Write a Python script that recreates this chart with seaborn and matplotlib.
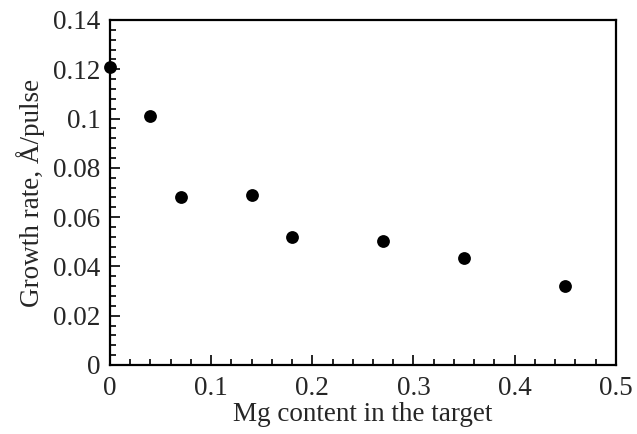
import matplotlib
matplotlib.use("Agg")
import matplotlib.pyplot as plt
import seaborn as sns
import pandas as pd
from matplotlib.ticker import MultipleLocator, FuncFormatter

mg_content = [0.0, 0.04, 0.07, 0.14, 0.18, 0.27, 0.35, 0.45]
growth_rate = [0.121, 0.101, 0.068, 0.069, 0.052, 0.0505, 0.0435, 0.0322]

df = pd.DataFrame({"mg": mg_content, "rate": growth_rate})

sns.set_style("white")
plt.rcParams["font.family"] = ["Liberation Serif", "DejaVu Serif"]

fig = plt.figure(figsize=(6.37, 4.34), dpi=100)
ax = fig.add_axes([0.1727, 0.159, 0.794, 0.795])

sns.scatterplot(data=df, x="mg", y="rate", ax=ax, color="black", s=85,
                edgecolor="black", linewidth=0, clip_on=False, zorder=5)

ax.set_xlim(0, 0.5)
ax.set_ylim(0, 0.14)
ax.xaxis.set_major_locator(MultipleLocator(0.1))
ax.xaxis.set_minor_locator(MultipleLocator(0.02))
ax.yaxis.set_major_locator(MultipleLocator(0.02))
ax.yaxis.set_minor_locator(MultipleLocator(0.004))
fmt = FuncFormatter(lambda v, p: "0" if abs(v) < 1e-9 else f"{v:.2f}".rstrip("0"))
ax.xaxis.set_major_formatter(fmt)
ax.yaxis.set_major_formatter(fmt)

ax.tick_params(which="both", direction="in", top=False, right=False,
               bottom=True, left=True, color="black", width=1.2)
ax.tick_params(which="major", length=7, labelsize=19.5)
ax.tick_params(axis="x", which="major", pad=8)
ax.tick_params(axis="y", which="major", pad=7)
ax.tick_params(which="minor", length=4)

for s in ax.spines.values():
    s.set_color("black")
    s.set_linewidth(1.6)

ax.set_xlabel("Mg content in the target", fontsize=19.5, labelpad=1)
ax.set_ylabel("Growth rate, Å/pulse", fontsize=19.5, labelpad=6)

fig.savefig("out.png", dpi=100)
